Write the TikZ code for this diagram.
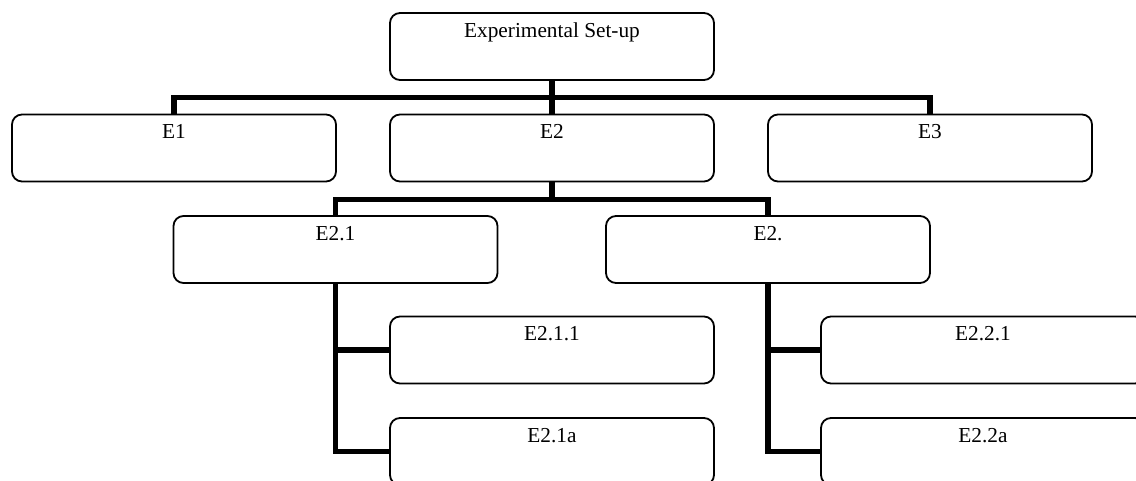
\documentclass[tikz,border=0pt]{standalone}
\usepackage{fontspec}
\setmainfont{Liberation Serif}
\begin{document}
\begin{tikzpicture}[x=1pt,y=-1pt,
  boxnode/.style={draw=black, line width=1.8pt, rounded corners=10pt,
    minimum width=324pt, inner xsep=0pt, inner ysep=0pt,
    text height=24.5pt, text depth=42.5pt, anchor=center,
    font=\fontsize{21.3}{25}\selectfont},
  conn/.style={draw=black, line width=5.5pt}]
\useasboundingbox (0,0) rectangle (1136,481);
\clip (0,0) rectangle (1136,481);

% boxes
\node[boxnode] (top)  at (552,46.5)  {Experimental Set-up};
\node[boxnode] (e1)   at (174,148)   {E1};
\node[boxnode] (e2)   at (552,148)   {E2};
\node[boxnode] (e3)   at (930,148)   {E3};
\node[boxnode] (e21)  at (335.5,249.5) {E2.1};
\node[boxnode] (e22)  at (768,249.5) {E2.};
\node[boxnode] (e211) at (552,350)   {E2.1.1};
\node[boxnode] (e21a) at (552,451.5) {E2.1a};
\node[boxnode] (e221) at (983,350)   {E2.2.1};
\node[boxnode] (e22a) at (983,451.5) {E2.2a};

% bus coordinates
\coordinate (busA) at (552,97.5);
\coordinate (busB) at (552,199.5);

% connectors
\draw[conn] (top.south) -- (e2.north);
\draw[conn] (e1.north) |- (busA) -| (e3.north);
\draw[conn] (e2.south) -- (busB);
\draw[conn] (e21.north) |- (busB) -| (e22.north);
\draw[conn] (e21.south) |- (e21a.west);
\draw[conn] (e211.west) -- (e211.west -| e21.south);
\draw[conn] (e22.south) |- (e22a.west);
\draw[conn] (e221.west) -- (e221.west -| e22.south);
\end{tikzpicture}
\end{document}
